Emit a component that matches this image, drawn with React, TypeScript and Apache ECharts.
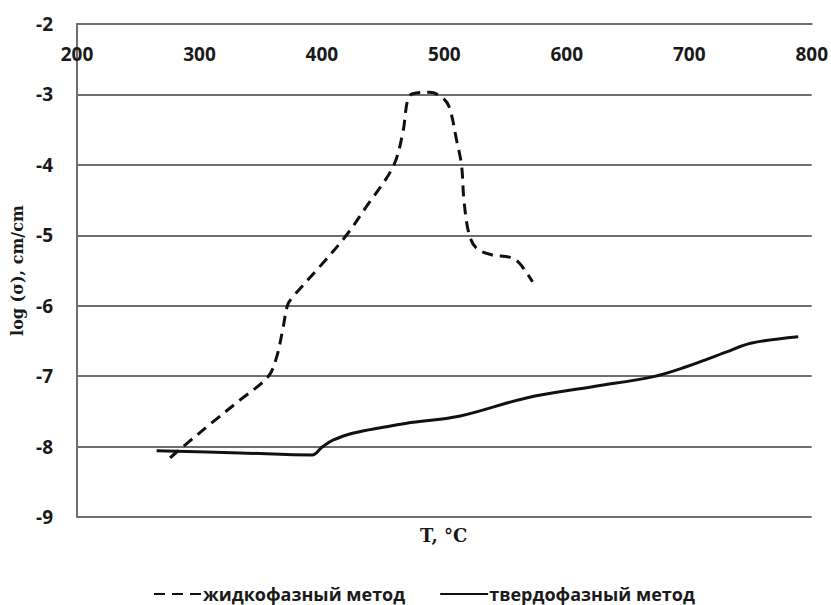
import React, { useEffect, useRef } from "react";
import * as echarts from "echarts";

const xTicks = [200, 300, 400, 500, 600, 700, 800];
const yTicks = [-9, -8, -7, -6, -5, -4, -3, -2];

const liquidT = [276, 286, 311, 333, 356, 363, 368, 372, 376, 398, 420, 436, 458, 466, 470, 474, 488, 498, 504, 510, 514, 516, 520, 526, 539, 553, 561, 572];
const liquidLog = [-8.16, -8.01, -7.65, -7.34, -7.01, -6.73, -6.34, -5.99, -5.88, -5.45, -5.0, -4.6, -4.03, -3.55, -3.08, -2.99, -2.97, -3.04, -3.18, -3.65, -4.0, -4.5, -4.97, -5.18, -5.28, -5.31, -5.39, -5.66];

const solidT = [265, 333, 392, 400, 409, 425, 469, 512, 567, 621, 670, 697, 730, 751, 789];
const solidLog = [-8.06, -8.09, -8.12, -8.01, -7.91, -7.81, -7.67, -7.57, -7.31, -7.15, -7.01, -6.87, -6.66, -6.53, -6.44];

const seriesNames = ["жидкофазный метод", "твердофазный метод"];

export default function App() {
  const ref = useRef<HTMLDivElement>(null);
  useEffect(() => {
    if (!ref.current) return;
    const chart = echarts.init(ref.current, null, { renderer: "svg" });
    const pair = (xs: number[], ys: number[]) => xs.map((x, i) => [x, ys[i]]);
    chart.setOption({
      animation: false,
      backgroundColor: "#ffffff",
      grid: { left: 77, top: 24, right: 18, bottom: 88 },
      xAxis: {
        type: "value",
        position: "top",
        min: xTicks[0],
        max: xTicks[xTicks.length - 1],
        interval: 100,
        axisLine: { show: true, lineStyle: { color: "#6e6e6e", width: 2 } },
        axisTick: { show: false },
        splitLine: { show: false },
        axisLabel: {
          inside: true,
          margin: 20,
          color: "#1a1a1a",
          fontFamily: "Open Sans",
          fontWeight: "bold",
          fontSize: 19,
        },
      },
      yAxis: {
        type: "value",
        min: yTicks[0],
        max: yTicks[yTicks.length - 1],
        interval: 1,
        axisLine: { show: true, lineStyle: { color: "#6e6e6e", width: 2 } },
        axisTick: { show: false },
        splitLine: { show: true, lineStyle: { color: "#6e6e6e", width: 2 } },
        axisLabel: {
          margin: 24,
          color: "#1a1a1a",
          fontFamily: "Open Sans",
          fontWeight: "bold",
          fontSize: 19,
        },
        name: "log (σ), cm/cm",
        nameLocation: "middle",
        nameRotate: 90,
        nameGap: 48,
        nameTextStyle: {
          color: "#1a1a1a",
          fontFamily: "DejaVu Serif",
          fontWeight: "bold",
          fontSize: 16,
        },
      },
      legend: {
        top: 580,
        left: 148,
        itemGap: 34,
        itemWidth: 48,
        itemHeight: 16,
        itemStyle: { color: "rgba(0,0,0,0)", borderWidth: 0, opacity: 0 },
        textStyle: {
          color: "#1a1a1a",
          fontFamily: "Open Sans",
          fontWeight: "bold",
          fontSize: 18,
          padding: [0, 0, 0, -4],
        },
        data: seriesNames,
      },
      graphic: [
        {
          type: "text",
          left: 420,
          top: 526,
          style: {
            text: "T, °C",
            fill: "#1a1a1a",
            font: "bold 18px 'DejaVu Serif'",
          },
        },
      ],
      series: [
        {
          name: seriesNames[0],
          type: "line",
          data: pair(liquidT, liquidLog),
          smooth: 0.35,
          symbol: "none",
          lineStyle: { color: "#111", width: 3, type: [11, 7] },
          itemStyle: { color: "#111" },
        },
        {
          name: seriesNames[1],
          type: "line",
          data: pair(solidT, solidLog),
          smooth: 0.35,
          symbol: "none",
          lineStyle: { color: "#111", width: 3, type: "solid" },
          itemStyle: { color: "#111" },
        },
      ],
    });
    return () => chart.dispose();
  }, []);
  return <div ref={ref} style={{ position: "fixed", left: 0, top: 0, width: 831, height: 605 }} />;
}
